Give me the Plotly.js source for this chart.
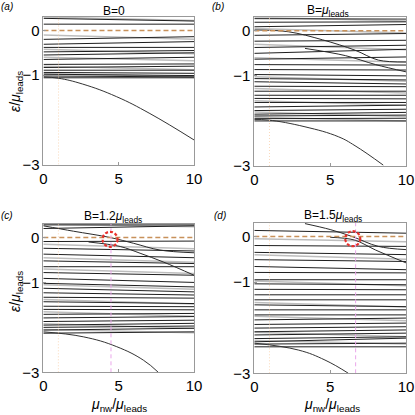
<!DOCTYPE html>
<html>
<head>
<meta charset="utf-8">
<script src="https://cdn.plot.ly/plotly-3.0.1.min.js"></script>
<style>
  body { margin: 0; background: #fff; }
  #chart { width: 415px; height: 415px; }
</style>
</head>
<body>
<div id="chart"></div>
<script>
// energy levels, value at mu_nw = 0 and at mu_nw = 10
var levelsA0  = [0.27, 0.14, -0.2, -0.31, -0.38, -0.48, -0.55, -0.65, -0.76, -0.83, -0.89, -0.94, -0.98, -1.02, -1.06];
var levelsA10 = [0.21, 0.14, -0.14, -0.25, -0.38, -0.45, -0.5, -0.6, -0.75, -0.8, -0.89, -0.96, -1.01, -1.04, -1.06];
var levelsB0  = [0.27, 0.19, 0.09, -0.1, -0.23, -0.37, -0.5, -0.63, -0.75, -0.86, -0.97, -1.06, -1.13, -1.23, -1.34, -1.43, -1.5, -1.59, -1.69, -1.77, -1.85, -1.89, -1.95, -2.0];
var levelsB10 = [0.26, 0.2, 0.14, -0.06, -0.21, -0.32, -0.41, -0.58, -0.76, -0.87, -1.0, -1.09, -1.18, -1.24, -1.34, -1.43, -1.51, -1.59, -1.65, -1.74, -1.81, -1.87, -1.94, -2.0];
var levelsC0  = [0.28, 0.2, -0.09, -0.24, -0.37, -0.52, -0.65, -0.78, -0.91, -1.02, -1.13, -1.23, -1.33, -1.43, -1.53, -1.6, -1.71, -1.79, -1.87, -1.95, -2.0, -2.06, -2.13];
var levelsC10 = [0.28, 0.26, -0.08, -0.3, -0.45, -0.58, -0.65, -0.84, -1.0, -1.1, -1.21, -1.28, -1.35, -1.47, -1.54, -1.61, -1.69, -1.76, -1.84, -1.91, -1.97, -2.02, -2.1];
var levelsD0  = [0.13, -0.2, -0.35, -0.51, -0.66, -0.79, -0.95, -1.04, -1.16, -1.28, -1.39, -1.5, -1.61, -1.72, -1.83, -1.93, -2.01, -2.09, -2.16, -2.24, -2.31, -2.36, -2.42];
var levelsD10 = [0.07, -0.22, -0.4, -0.55, -0.73, -0.8, -0.95, -1.06, -1.17, -1.28, -1.39, -1.54, -1.61, -1.72, -1.79, -1.9, -1.98, -2.05, -2.12, -2.2, -2.23, -2.34, -2.42];

// faint (grey) branches
var greyA0  = [0.3, -0.1, -0.42, -0.6, -0.8, -0.97];
var greyA10 = [0.22, -0.2, -0.52, -0.68, -0.88, -1.03];
var greyB0  = [0.3, 0.05, -0.3, -0.6, -1.02, -1.28, -1.55, -1.8, -1.92];
var greyB10 = [0.22, -0.05, -0.42, -0.7, -1.12, -1.38, -1.65, -1.9, -2.0];
var greyC0  = [0.3, -0.15, -0.45, -0.7, -1.05, -1.38, -1.65, -1.92, -2.05];
var greyC10 = [0.24, -0.25, -0.55, -0.8, -1.15, -1.48, -1.75, -2.02, -2.12];
var greyD0  = [-0.05, -0.4, -0.98, -1.45, -1.75, -2.1, -2.28];
var greyD10 = [-0.12, -0.5, -1.08, -1.55, -1.85, -2.2, -2.36];

// states crossing zero energy
var crossB1x = [0, 2.24, 4.5, 6.64, 8.18, 10];
var crossB1y = [0.02, -0.02, -0.2, -0.43, -0.65, -0.69];
var crossB2x = [3.34, 6, 8, 10];
var crossB2y = [-0.39, -0.55, -0.75, -0.91];
var crossC1x = [0, 2, 4.43, 6, 7.74, 10];
var crossC1y = [0.26, 0.14, 0.0, -0.13, -0.28, -0.34];
var crossC2x = [3, 5.1, 6.42, 8, 10];
var crossC2y = [-0.1, -0.2, -0.35, -0.55, -0.84];
var crossD1x = [3.34, 5, 6.42, 8.18, 10];
var crossD1y = [0.28, 0.15, 0.0, -0.22, -0.29];
var crossD2x = [5, 6.6, 8, 10];
var crossD2y = [-0.02, -0.08, -0.3, -0.58];

// lowest band bending down
var bandAx = [0, 1, 2.6, 4.84, 7.07, 10];
var bandAy = [-1.04, -1.07, -1.2, -1.48, -1.86, -2.45];
var bandBx = [0, 0.92, 3.34, 5.54, 6.64, 8.5];
var bandBy = [-1.97, -1.98, -2.13, -2.35, -2.55, -2.98];
var bandCx = [0, 2.65, 4.87, 6.64, 7.63];
var bandCy = [-2.1, -2.21, -2.43, -2.73, -3.0];
var bandDx = [0, 2.9, 4.66, 6.2];
var bandDy = [-2.34, -2.49, -2.71, -3.0];

var refMu = 1;               // dotted vertical
var markMu = [4.49, 6.68];   // pink dashed vertical in (c), (d)
var circX = [4.43, 6.49];
var circY = [-0.04, -0.05];

var yMin = -3, yMax = 0.3;
var xTicks = [0, 5, 10];
var yTicks = [0, -1, -3];

function segs(a, b) {
    var x = [], y = [];
    for (var i = 0; i < a.length; ++i) {
        x.push(0, 10, null);
        y.push(a[i], b[i], null);
    }
    return {x: x, y: y};
}

var panels = [
    {xa: 'x',  ya: 'y',  lv: [levelsA0, levelsA10], gr: [greyA0, greyA10], cr: [], band: [bandAx, bandAy], mark: null},
    {xa: 'x2', ya: 'y2', lv: [levelsB0, levelsB10], gr: [greyB0, greyB10], cr: [[crossB1x, crossB1y], [crossB2x, crossB2y]], band: [bandBx, bandBy], mark: null},
    {xa: 'x3', ya: 'y3', lv: [levelsC0, levelsC10], gr: [greyC0, greyC10], cr: [[crossC1x, crossC1y], [crossC2x, crossC2y]], band: [bandCx, bandCy], mark: 0},
    {xa: 'x4', ya: 'y4', lv: [levelsD0, levelsD10], gr: [greyD0, greyD10], cr: [[crossD1x, crossD1y], [crossD2x, crossD2y]], band: [bandDx, bandDy], mark: 1}
];

var traces = [];
var shapes = [];
panels.forEach(function (p) {
    var g = segs(p.gr[0], p.gr[1]);
    traces.push({x: g.x, y: g.y, xaxis: p.xa, yaxis: p.ya, mode: 'lines',
        line: {color: '#bdbdbd', width: 1.5}, connectgaps: false});
    var l = segs(p.lv[0], p.lv[1]);
    traces.push({x: l.x, y: l.y, xaxis: p.xa, yaxis: p.ya, mode: 'lines',
        line: {color: '#1e1e1e', width: 1}, connectgaps: false});
    p.cr.forEach(function (c) {
        traces.push({x: c[0], y: c[1], xaxis: p.xa, yaxis: p.ya, mode: 'lines',
            line: {color: '#2a2a2a', width: 1, shape: 'spline'}});
    });
    traces.push({x: p.band[0], y: p.band[1], xaxis: p.xa, yaxis: p.ya, mode: 'lines',
        line: {color: '#333', width: 1, shape: 'spline', smoothing: 1.2}});
    // dotted line at mu_nw = mu_leads
    traces.push({x: [refMu, refMu], y: [yMin, yMax], xaxis: p.xa, yaxis: p.ya, mode: 'lines',
        line: {color: '#f9cfa8', width: 0.8, dash: '1px,2px'}});
    // zero energy
    traces.push({x: [0, 10], y: [0, 0], xaxis: p.xa, yaxis: p.ya, mode: 'lines',
        line: {color: '#c8915a', width: 1.5, dash: '5px,3px'}});
    if (p.mark !== null) {
        var m = p.mark;
        traces.push({x: [markMu[m], markMu[m]], y: [yMin, yMax], xaxis: p.xa, yaxis: p.ya, mode: 'lines',
            line: {color: '#eaa6ea', width: 1, dash: '4px,3px'}});
        shapes.push({type: 'circle', xref: p.xa, yref: p.ya,
            xsizemode: 'pixel', ysizemode: 'pixel',
            xanchor: circX[m], yanchor: circY[m],
            x0: -7.5, x1: 7.5, y0: -7.5, y1: 7.5,
            line: {color: '#e8302c', width: 2.2, dash: '3px,2px'}});
    }
});

function xax(dom, anchor) {
    return {domain: dom, anchor: anchor, range: [0, 10], tickvals: xTicks,
        ticks: 'inside', ticklen: 3, tickcolor: '#999', showline: true, mirror: true,
        linecolor: '#999', linewidth: 1, showgrid: false, zeroline: false,
        tickfont: {family: 'Liberation Sans, Arial', size: 15, color: '#000'}};
}
function yax(dom, anchor) {
    return {domain: dom, anchor: anchor, range: [yMin, yMax], tickvals: yTicks,
        ticks: 'inside', ticklen: 3, tickcolor: '#999', showline: true, mirror: true,
        linecolor: '#999', linewidth: 1, showgrid: false, zeroline: false,
        tickfont: {family: 'Liberation Sans, Arial', size: 15, color: '#000'}};
}

var fnt = {family: 'Liberation Sans, Arial', color: '#000'};
function ann(x, y, text, size, extra) {
    var a = {xref: 'paper', yref: 'paper', x: x / 415, y: 1 - y / 415, text: text,
        showarrow: false, xanchor: 'center', yanchor: 'middle',
        font: Object.assign({}, fnt, {size: size})};
    return Object.assign(a, extra || {});
}

var annotations = [
    ann(7, 6, '<i>(a)</i>', 10),
    ann(218, 6, '<i>(b)</i>', 10),
    ann(7, 215, '<i>(c)</i>', 10),
    ann(220, 215, '<i>(d)</i>', 10),
    ann(114, 11, 'B=0', 12),
    ann(328, 11, 'B=<i>μ</i><sub>leads</sub>', 12),
    ann(113, 217, 'B=1.2<i>μ</i><sub>leads</sub>', 12),
    ann(333, 216, 'B=1.5<i>μ</i><sub>leads</sub>', 12),
    ann(16, 92, '<i>ε</i>/<i>μ</i><sub>leads</sub>', 14, {textangle: -90}),
    ann(16, 292, '<i>ε</i>/<i>μ</i><sub>leads</sub>', 14, {textangle: -90}),
    ann(119, 405, '<i>μ</i><sub>nw</sub>/<i>μ</i><sub>leads</sub>', 14),
    ann(332, 405, '<i>μ</i><sub>nw</sub>/<i>μ</i><sub>leads</sub>', 14)
];

var layout = {
    width: 415, height: 415,
    margin: {l: 0, r: 0, t: 0, b: 0},
    showlegend: false,
    paper_bgcolor: '#fff', plot_bgcolor: '#fff',
    xaxis:  xax([0.1048, 0.4675], 'y'),
    yaxis:  yax([0.6036, 0.959], 'x'),
    xaxis2: xax([0.6128, 0.9783], 'y2'),
    yaxis2: yax([0.6, 0.9583], 'x2'),
    xaxis3: xax([0.1044, 0.4675], 'y3'),
    yaxis3: yax([0.1029, 0.4602], 'x3'),
    xaxis4: xax([0.6128, 0.9783], 'y4'),
    yaxis4: yax([0.1005, 0.4634], 'x4'),
    shapes: shapes,
    annotations: annotations
};

Plotly.newPlot('chart', traces, layout, {staticPlot: true});
</script>
</body>
</html>
